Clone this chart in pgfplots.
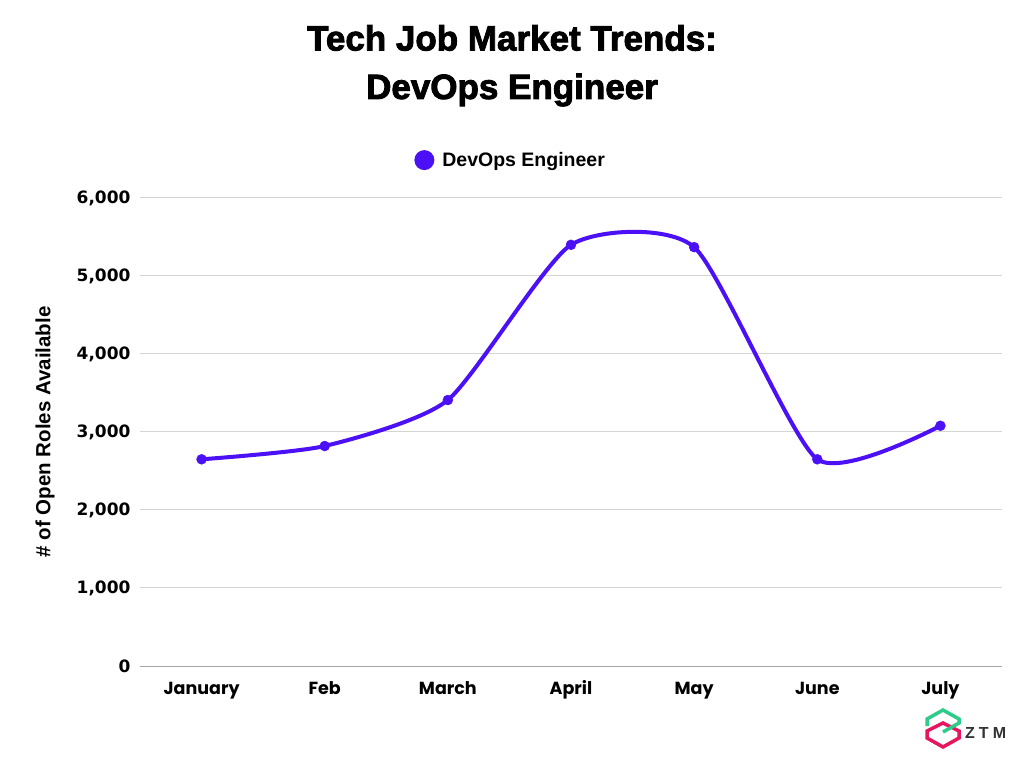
\documentclass[border=0pt]{standalone}
\usepackage{fontspec}
\setmainfont{Liberation Sans}
\newfontfamily\popfont{Poppins}
\newfontfamily\tickfont{DejaVu Sans}
\usepackage{pgfplots}
\pgfplotsset{compat=1.18}
\definecolor{devops}{RGB}{75,16,245}
\definecolor{gridc}{RGB}{212,212,212}
\definecolor{ztmgreen}{RGB}{46,204,138}
\definecolor{ztmpink}{RGB}{232,23,93}
\begin{document}
\begin{tikzpicture}[x=1pt,y=1pt]
\fill[white] (0,0) rectangle (1024,768);
\path[use as bounding box] (0,0) rectangle (1024,768);
\node[font=\bfseries\fontsize{35}{35}\selectfont\addfontfeature{FakeBold=2.5}] at (512,730) {Tech Job Market Trends:};
\node[font=\bfseries\fontsize{35}{35}\selectfont\addfontfeature{FakeBold=2.5}] at (512,678) {DevOps Engineer};
\begin{axis}[
  at={(140pt,102pt)}, anchor=south west,
  scale only axis, width=862pt, height=468pt,
  xmin=-0.5, xmax=6.5, ymin=0, ymax=6000,
  ytick={0,1000,...,6000},
  xtick={0,...,6},
  xticklabels={January,Feb,March,April,May,June,July},
  axis x line*=bottom, axis y line*=left,
  y axis line style={draw=none},
  x axis line style={draw=gray!70, line width=1pt, -},
  ymajorgrids, grid style={gridc, line width=1pt},
  major tick length=0pt, tick style={draw=none},
  scaled y ticks=false,
  /pgf/number format/.cd, 1000 sep={,}, assume math mode=true, /pgfplots/.cd,
  yticklabel style={font=\tickfont\bfseries\fontsize{17}{17}\selectfont, xshift=-6pt},
  xticklabel style={font=\popfont\bfseries\fontsize{17.5}{17.5}\selectfont, anchor=base, yshift=-28pt},
  ylabel={\# of Open Roles Available},
  ylabel style={font=\fontsize{20.5}{20.5}\selectfont\bfseries, at={(axis description cs:-0.110,0.5)}, anchor=center},
  legend style={at={(0.430,1.081)}, anchor=center, draw=none, fill=none,
    font=\fontsize{19.5}{19.5}\selectfont\bfseries},
  legend image code/.code={\fill[devops, draw=none] (0pt,0pt) circle (10pt); \path[draw=none, fill=none] (-10pt,-1pt) rectangle (16pt,1pt);},
]
\addplot[devops, line width=4pt, smooth, tension=0.37]
  coordinates {(0,2650) (1,2820) (2,3410) (3,5400) (4,5370) (5,2650) (6,3080)};
\addlegendentry{DevOps Engineer}
\addplot[devops, only marks, mark=*, mark size=5pt, mark options={fill=devops, draw=none}, forget plot]
  coordinates {(0,2650) (1,2820) (2,3410) (3,5400) (4,5370) (5,2650) (6,3080)};
\end{axis}
% ZTM logo
\draw[ztmpink, line width=3.5pt, line join=miter] (943,45) -- (927,37) -- (927,30) -- (943,21) -- (959,30) -- (959,37) -- cycle;
\draw[ztmgreen, line width=3.5pt, line join=miter] (927,42) -- (927,49) -- (943,58) -- (959,49) -- (959,45) -- (943,36);
\node[font=\fontsize{16}{16}\selectfont\bfseries, text=black!80, anchor=west, inner sep=0pt] at (965,35) {Z\kern4pt T\kern4pt M};
\end{tikzpicture}
\end{document}
